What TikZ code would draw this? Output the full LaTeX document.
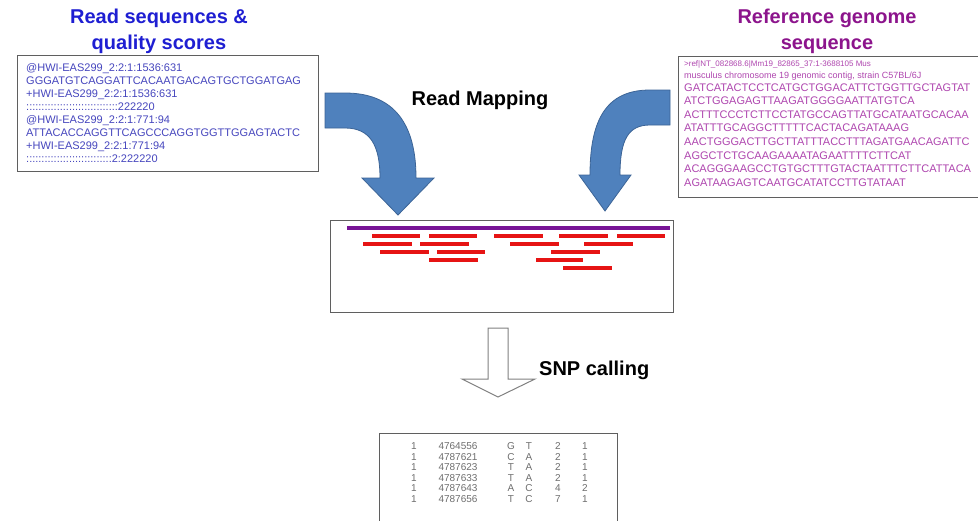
\documentclass[tikz,border=0pt]{standalone}
\usepackage{fontspec}
\setmainfont{Liberation Sans}
\usepackage{tikz}
\usetikzlibrary{arrows.meta}
\usetikzlibrary{positioning}
\usetikzlibrary{calc}

\definecolor{titleblue}{RGB}{30,30,210}
\definecolor{readblue}{RGB}{70,70,190}
\definecolor{titlepurple}{RGB}{140,20,140}
\definecolor{refpurple}{RGB}{175,70,175}
\definecolor{bendblue}{RGB}{79,129,189}
\definecolor{bendedge}{RGB}{60,100,150}
\definecolor{refline}{RGB}{120,20,150}
\definecolor{readred}{RGB}{230,20,20}
\definecolor{boxgray}{RGB}{95,95,95}
\definecolor{tabgray}{RGB}{110,110,110}

\begin{document}
\begin{tikzpicture}[x=1pt,y=-1pt]
\tikzstyle{big label}=[font=\bfseries\fontsize{20}{26}\selectfont,align=center,inner sep=0]
\tikzstyle{seq box}=[rectangle,draw=boxgray,line width=1pt,fill=white,anchor=north west]
\tikzstyle{seq text}=[font=\fontsize{11}{13}\selectfont,align=left,inner sep=0,anchor=north west]
\tikzset{
  bend arrow/.style = {fill=bendblue,draw=bendedge,line width=0.8pt},
  hollow arrow/.style = {fill=white,draw=gray,line width=1pt,line join=miter},
  ref read/.style = {draw=refline,line width=3.5pt},
  short read/.style = {draw=readred,line width=3.3pt},
  tab cell/.style = {font=\fontsize{10}{10}\selectfont,text=tabgray,inner sep=0}
}
\useasboundingbox (0,0) rectangle (978,520);

    \node[big label,text=titleblue]   (rtitle)  at (159,31)  {Read sequences \&\\quality scores};
    \node[big label,text=titlepurple] (gtitle)  at (827,31)  {Reference genome\\sequence};
    \node[big label]                  (rmap)    at (480,100) {Read Mapping};

    %%%%%%%%%%%%%%%%%%%%%%%%%%%%%%%%%%%
    \node[seq box,minimum width=301pt,minimum height=116pt] (reads) at (17,55) {};
    \node[seq text,text=readblue] (readtxt) [below right=8pt and 9pt of reads.north west]
      {@HWI-EAS299\_2:2:1:1536:631\\
       GGGATGTCAGGATTCACAATGACAGTGCTGGATGAG\\
       +HWI-EAS299\_2:2:1:1536:631\\
       ::::::::::::::::::::::::::::::222220\\
       @HWI-EAS299\_2:2:1:771:94\\
       ATTACACCAGGTTCAGCCCAGGTGGTTGGAGTACTC\\
       +HWI-EAS299\_2:2:1:771:94\\
       ::::::::::::::::::::::::::::2:222220};

    \node[seq box,minimum width=330pt,minimum height=141pt] (genome) at (678,56) {};
    \node[seq text,text=refpurple,font=\fontsize{11}{13.6}\selectfont] (gentxt) [below right=4pt and 6pt of genome.north west]
      {{\fontsize{8}{10}\selectfont >ref|NT\_082868.6|Mm19\_82865\_37:1-3688105 Mus}\\[-1.6pt]
       {\fontsize{9}{10}\selectfont musculus chromosome 19 genomic contig, strain C57BL/6J}\\[-0.6pt]
       GATCATACTCCTCATGCTGGACATTCTGGTTGCTAGTAT\\
       ATCTGGAGAGTTAAGATGGGGAATTATGTCA\\
       ACTTTCCCTCTTCCTATGCCAGTTATGCATAATGCACAA\\
       ATATTTGCAGGCTTTTTCACTACAGATAAAG\\
       AACTGGGACTTGCTTATTTACCTTTAGATGAACAGATTC\\
       AGGCTCTGCAAGAAAATAGAATTTTCTTCAT\\
       ACAGGGAAGCCTGTGCTTTGTACTAATTTCTTCATTACA\\
       AGATAAGAGTCAATGCATATCCTTGTATAAT};

    %%%%%%%%%%%%%%%%%%%%%%%%%%%%%%%%%%%
    \node[seq box,line width=0.8pt,minimum width=343pt,minimum height=92pt] (map) at (330,220) {};
    \draw[ref read] ([xshift=17pt,yshift=-8pt]map.north west) -- ([xshift=-4pt,yshift=-8pt]map.north east);
    \foreach \a/\b/\y in {372/420/236, 429/477/236, 494/543/236, 559/608/236, 617/665/236,
                          363/412/244, 420/469/244, 510/559/244, 584/633/244,
                          380/429/252, 437/485/252, 551/600/252,
                          429/478/260, 536/583/260,
                          563/612/268}
        \draw[short read] (\a,\y) -- (\b,\y);

    % bent arrows into the mapping box
    \draw[bend arrow] (325,93) -- (345,93) .. controls (395,93) and (416,125) .. (416,178)
        -- (434,178) -- (398,215) -- (362,178) -- (380,178)
        .. controls (380,145) and (370,128) .. (345,128) -- (325,128) -- cycle;
    \draw[bend arrow] (670,90) -- (650,90) .. controls (606,90) and (590,120) .. (590,175)
        -- (579,175) -- (605,211) -- (631,175) -- (620,175)
        .. controls (620,140) and (628,125) .. (650,125) -- (670,125) -- cycle;

    %%%%%%%%%%%%%%%%%%%%%%%%%%%%%%%%%%%
    \draw[hollow arrow] (488,328) -- (488,379) -- (462,379) -- (498,397) -- (535,379) -- (508,379) -- (508,328) -- cycle;
    \node[big label,anchor=west] (snpc) at (539,370) {SNP calling};

    \node[seq box,line width=0.8pt,minimum width=238pt,minimum height=100pt] (snps) at (379,433) {};
    \foreach \ch/\pos/\rf/\al/\dp/\qq [count=\i] in {1/4764556/G/T/2/1, 1/4787621/C/A/2/1,
               1/4787623/T/A/2/1, 1/4787633/T/A/2/1, 1/4787643/A/C/4/2, 1/4787656/T/C/7/1}
    {
        \node[tab cell] (c\i) at (414,435.5+10.6*\i) {\ch};
        \node[tab cell] (p\i) at (458,435.5+10.6*\i) {\pos};
        \node[tab cell] (f\i) at (511,435.5+10.6*\i) {\rf};
        \node[tab cell] (a\i) at (529,435.5+10.6*\i) {\al};
        \node[tab cell] (d\i) at (558,435.5+10.6*\i) {\dp};
        \node[tab cell] (q\i) at (585,435.5+10.6*\i) {\qq};
    }
\end{tikzpicture}
\end{document}
